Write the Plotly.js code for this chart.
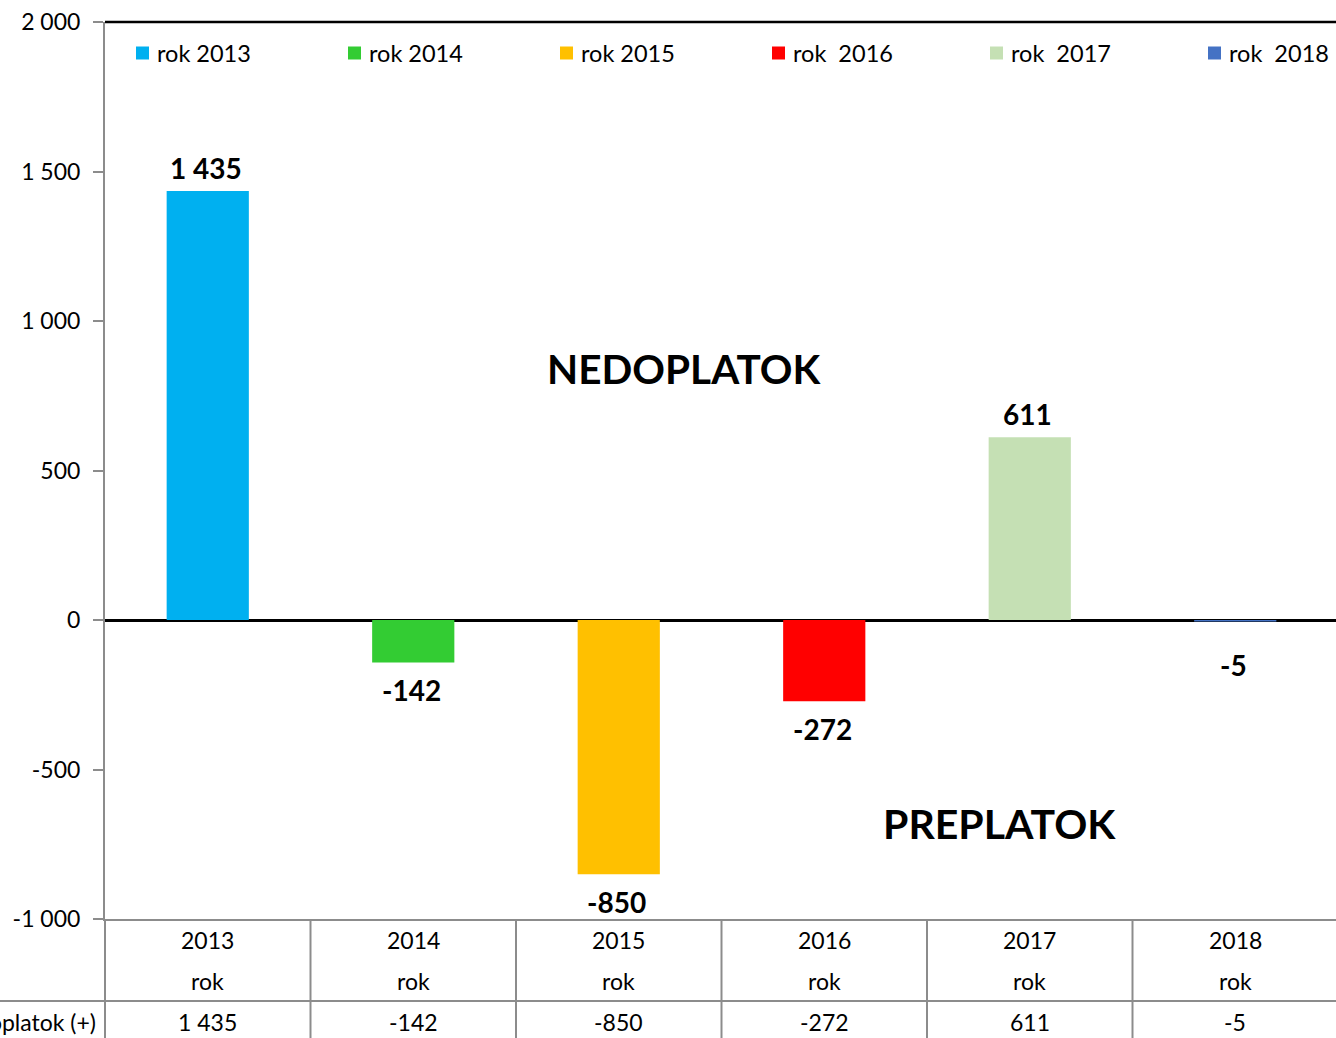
<!DOCTYPE html>
<html>
<head>
<meta charset="utf-8">
<script src="https://cdn.plot.ly/plotly-3.0.1.min.js"></script>
<style>
  html, body { margin: 0; padding: 0; overflow: hidden; background: #fff; }
  #chart { width: 1338px; height: 1038px; }
</style>
</head>
<body>
<div id="chart"></div>
<script>
const years = ['2013', '2014', '2015', '2016', '2017', '2018'];
const values = [1435, -142, -850, -272, 611, -5];
const seriesNames = ['rok 2013', 'rok 2014', 'rok 2015', 'rok\u00a0 2016', 'rok\u00a0 2017', 'rok\u00a0 2018'];
const rowLabel = 'Preplatok (-) / nedoplatok (+)';
const subLabel = 'rok';
const yTicks = [-1000, -500, 0, 500, 1000, 1500, 2000];

const colors = ['#00B0F0', '#33CC33', '#FFC000', '#FF0000', '#C5E0B4', '#4472C4'];
const legendX = [136, 348, 560, 772, 990, 1208]; // legend square left edges (px)
const FONT = 'Lato, "Open Sans", sans-serif';
const GRID = '#8C8C8C';

function fmt(v) {
  const s = String(Math.abs(v)).replace(/\B(?=(\d{3})+(?!\d))/g, ' ');
  return (v < 0 ? '-' : '') + s;
}

const W = 1338, H = 1038, L = 105, T = 22, B = 119;
const plotW = W - L, plotH = H - T - B;
const py = p => (H - B - p) / plotH;   // pixel y -> paper y
const px = p => (p - L) / plotW;      // pixel x -> paper x

const traces = years.map((yr, i) => ({
  type: 'bar',
  x: [yr],
  y: [values[i]],
  name: seriesNames[i],
  marker: { color: colors[i], line: { width: 0 } },
  width: 0.4,
  hoverinfo: 'x+y'
}));

const annotations = [];
const shapes = [];

// data labels (x given as category index)
values.forEach((v, i) => {
  let shift = v >= 0 ? 4 : -9;
  if (Math.abs(v) < 50) shift = -24;
  annotations.push({
    x: i, y: v, xref: 'x', yref: 'y',
    text: '<b>' + fmt(v) + '</b>',
    showarrow: false, xanchor: 'center',
    yanchor: v >= 0 ? 'bottom' : 'top',
    yshift: shift, xshift: -2,
    font: { family: FONT, size: 28, color: '#000' }
  });
});
// big labels
annotations.push({
  xref: 'paper', yref: 'paper', x: px(684), y: py(368), xanchor: 'center', yanchor: 'middle',
  text: '<b>NEDOPLATOK</b>', showarrow: false,
  font: { family: FONT, size: 40.5, color: '#000' }
});
annotations.push({
  xref: 'paper', yref: 'paper', x: px(999), y: py(823), xanchor: 'center', yanchor: 'middle',
  text: '<b>PREPLATOK</b>', showarrow: false,
  font: { family: FONT, size: 41, color: '#000' }
});
// data table
years.forEach((yr, i) => {
  [[py(940), yr], [py(981), subLabel], [py(1022), fmt(values[i])]].forEach(([yy, t]) => {
    annotations.push({ x: i, xref: 'x', yref: 'paper', y: yy, text: t, showarrow: false,
      xanchor: 'center', yanchor: 'middle',
      font: { family: FONT, size: 23, color: '#000' } });
  });
});
annotations.push({
  xref: 'paper', yref: 'paper', x: px(98), y: py(1022), xanchor: 'right', yanchor: 'middle',
  text: rowLabel, showarrow: false,
  font: { family: FONT, size: 23, color: '#000' }
});

// manual legend
seriesNames.forEach((n, i) => {
  shapes.push({ type: 'rect', xref: 'paper', yref: 'paper',
    x0: px(legendX[i]), x1: px(legendX[i] + 13), y0: py(46.5), y1: py(59.5),
    fillcolor: colors[i], line: { width: 0 } });
  annotations.push({ xref: 'paper', yref: 'paper', x: px(legendX[i] + 19), y: py(53),
    xanchor: 'left', yanchor: 'middle', text: n, showarrow: false,
    font: { family: FONT, size: 23.5, color: '#000' } });
});

// top black border
shapes.push({ type: 'line', xref: 'paper', yref: 'paper', x0: 0, x1: 1, y0: 1, y1: 1,
  line: { color: '#000', width: 2.5 } });
// table horizontal line below header
shapes.push({ type: 'line', xref: 'paper', yref: 'paper', x0: px(0), x1: 1, y0: py(1001), y1: py(1001),
  line: { color: GRID, width: 2 } });
// left vertical of table
shapes.push({ type: 'line', xref: 'paper', yref: 'paper', x0: 0, x1: 0, y0: 0, y1: py(1040),
  line: { color: GRID, width: 2 } });
// column separators
for (let k = 0; k < years.length; k++) {
  shapes.push({ type: 'line', xref: 'x', yref: 'paper', x0: k + 0.5, x1: k + 0.5, y0: 0, y1: py(1040),
    line: { color: GRID, width: 2 } });
}

const layout = {
  width: W, height: H,
  margin: { l: L, r: 0, t: T, b: B, pad: 0 },
  paper_bgcolor: '#fff', plot_bgcolor: '#fff',
  separators: ', ',
  barmode: 'overlay',
  showlegend: false,
  font: { family: FONT, size: 23, color: '#000' },
  xaxis: {
    type: 'category', categoryorder: 'array', categoryarray: years,
    range: [-0.5, years.length - 0.5],
    showticklabels: false, ticks: '', showgrid: false, zeroline: false,
    showline: true, linecolor: GRID, linewidth: 2, mirror: false, fixedrange: true
  },
  yaxis: {
    range: [-1000, 2000], tickvals: yTicks, ticktext: yTicks.map(fmt),
    showgrid: false, zeroline: true, zerolinecolor: '#000', zerolinewidth: 3,
    showline: true, linecolor: GRID, linewidth: 2,
    ticks: 'outside', ticklen: 10, tickwidth: 2, tickcolor: GRID,
    ticklabelstandoff: 8,
    tickfont: { family: FONT, size: 23, color: '#000' }, fixedrange: true
  },
  annotations: annotations,
  shapes: shapes
};

Plotly.newPlot('chart', traces, layout, { displayModeBar: false, staticPlot: true });
</script>
</body>
</html>
